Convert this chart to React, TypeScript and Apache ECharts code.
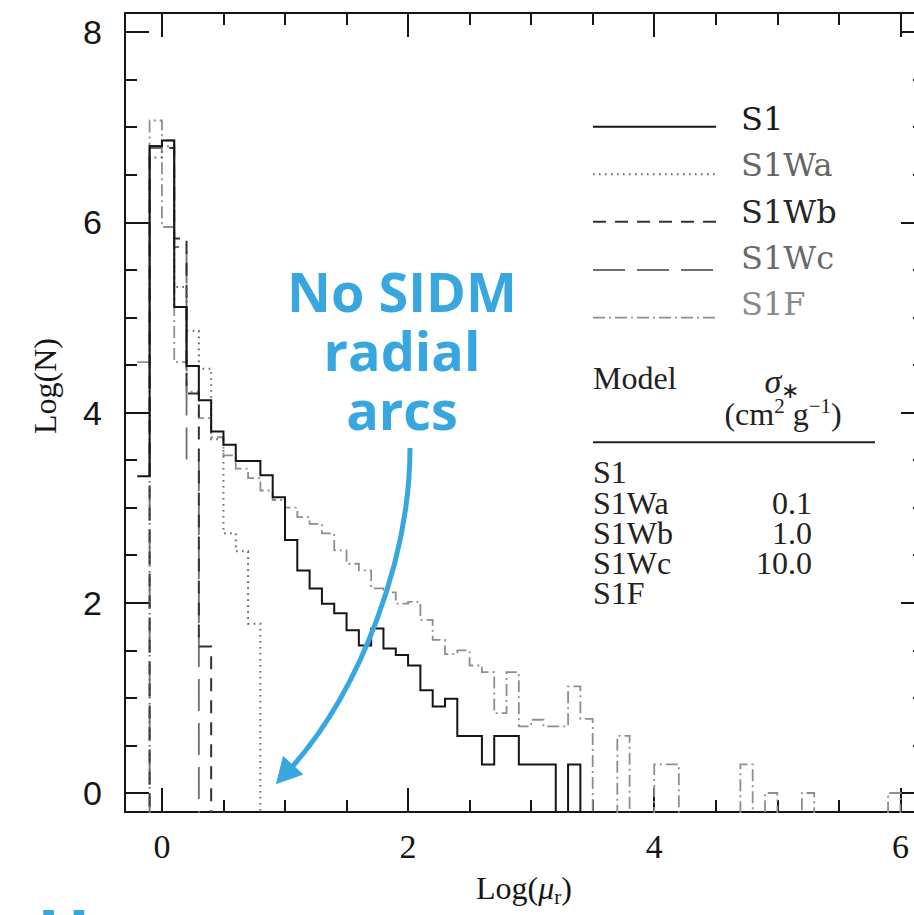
import React, { useEffect, useRef } from 'react';
import * as echarts from 'echarts';

// ---------- data (log10 counts per bin of width 0.1 in Log(mu_r); null = empty bin) ----------
const BIN_WIDTH = 0.1;

const S1_START = -0.2;
const S1 = [3.33, 6.80, 6.86, 5.11, 4.49, 4.13, 3.80, 3.66, 3.49, 3.49, 3.34, 3.11, 2.66, 2.34, 2.15, 1.99,
  1.89, 1.71, 1.55, 1.73, 1.52, 1.45, 1.34, 1.08, 0.91, 0.99, 0.60, 0.60, 0.30, 0.60, 0.60, 0.30, 0.30, 0.30,
  null, 0.30];

const S1WA_START = -0.1;
const S1WA = [6.68, 6.80, 5.32, 4.86, 4.46, 3.72, 2.73, 2.54, 1.78];

const S1WB_START = -0.1;
const S1WB = [6.80, 6.78, 5.83, 4.20, 1.54];

const S1WC_START = -0.1;
const S1WC = [6.78, 6.86, 5.74, 3.50];

const S1F_START = -0.2;
const S1F = [4.53, 7.07, 5.95, 4.53, 4.22, 3.94, 3.74, 3.55, 3.41, 3.31, 3.18, 3.08, 3.00, 2.90, 2.83, 2.73,
  2.55, 2.41, 2.34, 2.15, 2.11, 1.99, 2.01, 1.82, 1.61, 1.46, 1.50, 1.34, 1.27, 0.84, 1.27, 0.70, 0.77, 0.70,
  0.70, 1.12, 0.78, null, null, 0.60, null, null, 0.30, 0.30, null, null, null, null, null, 0.30, null, 0.00,
  null, null, 0.00, null, null, null, null, null, null, 0.00];

const X_MAJOR = [0, 2, 4, 6];
const X_MINOR = [0, 0.5, 1, 1.5, 2, 2.5, 3, 3.5, 4, 4.5, 5, 5.5, 6];
const Y_MAJOR = [0, 2, 4, 6, 8];
const Y_MINOR = [0, 0.5, 1, 1.5, 2, 2.5, 3, 3.5, 4, 4.5, 5, 5.5, 6, 6.5, 7, 7.5, 8];

const X_MIN = -0.3;
const X_MAX = 6.2;
const Y_MIN = -0.2;
const Y_MAX = 8.2;

const TABLE_MODELS = ['S1', 'S1Wa', 'S1Wb', 'S1Wc', 'S1F'];
const TABLE_SIGMA = ['', '0.1', '1.0', '10.0', ''];

const ANNOTATION = ['No SIDM', 'radial', 'arcs'];

// ---------- helpers ----------
const FLOOR = -5; // empty bins fall below the visible axis range

function stepPoints(start: number, vals: (number | null)[], riseFromFloor: boolean) {
  const pts: [number, number][] = [];
  if (riseFromFloor) pts.push([start, FLOOR]);
  vals.forEach((v, i) => {
    const y = v === null ? FLOOR : v;
    const x0 = +(start + i * BIN_WIDTH).toFixed(4);
    const x1 = +(start + (i + 1) * BIN_WIDTH).toFixed(4);
    pts.push([x0, y], [x1, y]);
  });
  const end = +(start + vals.length * BIN_WIDTH).toFixed(4);
  pts.push([end, FLOOR]);
  return pts;
}

const HIST = [
  { name: 'S1F', start: S1F_START, values: S1F, rise: false, color: '#8e8e8e', width: 1.8, dash: [12, 4, 2, 4] as any, legendText: '#8a8a8a' },
  { name: 'S1Wc', start: S1WC_START, values: S1WC, rise: true, color: '#6e6e6e', width: 1.8, dash: [32, 12] as any, legendText: '#6a6a6a' },
  { name: 'S1Wb', start: S1WB_START, values: S1WB, rise: true, color: '#333333', width: 2, dash: [13, 9] as any, legendText: '#262626' },
  { name: 'S1Wa', start: S1WA_START, values: S1WA, rise: true, color: '#666666', width: 2, dash: [1.6, 4.4] as any, legendText: '#666666' },
  { name: 'S1', start: S1_START, values: S1, rise: false, color: '#151515', width: 2, dash: 'solid' as any, legendText: '#1a1a1a' },
];

const AXIS_COLOR = '#151515';
const BLUE = '#39a7df';

function makeAxis(min: number, max: number, position: string, ticks: number[], len: number, showLine: boolean, label: any) {
  return {
    type: 'value',
    min,
    max,
    position,
    splitLine: { show: false },
    axisLine: { show: showLine, onZero: false, lineStyle: { color: AXIS_COLOR, width: 2 } },
    axisTick: { show: true, inside: true, length: len, customValues: ticks, lineStyle: { color: AXIS_COLOR, width: 2 } },
    axisLabel: label ? { show: true, customValues: ticks, ...label } : { show: false },
  };
}

function buildOption() {
  const series = HIST.map((h) => ({
    name: h.name,
    type: 'line',
    xAxisIndex: 0,
    yAxisIndex: 0,
    showSymbol: false,
    symbol: 'none',
    clip: true,
    lineStyle: { color: h.color, width: h.width, type: h.dash, cap: 'butt', join: 'miter' },
    data: stepPoints(h.start, h.values, h.rise),
  }));

  const legendOrder = ['S1', 'S1Wa', 'S1Wb', 'S1Wc', 'S1F'];
  const legendLineY = [126.7, 174.3, 221.7, 270, 317.7];
  const legendTextY = [118.5, 165, 211.7, 258.3, 303.5];
  const graphics: any[] = [];
  legendOrder.forEach((nm, i) => {
    const h = HIST.find((s) => s.name === nm)!;
    graphics.push({
      type: 'line',
      shape: { x1: 593, y1: legendLineY[i], x2: 716, y2: legendLineY[i] },
      style: { stroke: h.color, lineWidth: h.width, lineDash: Array.isArray(h.dash) ? h.dash : null },
    });
    graphics.push({
      type: 'text',
      x: 741,
      y: legendTextY[i],
      style: { text: nm, fill: h.legendText, fontSize: 32, fontFamily: 'DejaVu Serif', align: 'left', verticalAlign: 'middle' },
    });
  });

  // table
  const serif = 'Liberation Serif';
  graphics.push({
    type: 'text', x: 593, y: 378,
    style: { text: 'Model', fill: '#222', fontSize: 32, fontFamily: serif, align: 'left', verticalAlign: 'middle' },
  });
  graphics.push({
    type: 'text', x: 782, y: 381,
    style: {
      text: '{s|σ}{b|∗}', align: 'center', verticalAlign: 'middle',
      rich: {
        s: { fontSize: 34, fontFamily: serif, fontStyle: 'italic', fill: '#222', lineHeight: 40, verticalAlign: 'middle' },
        b: { fontSize: 22, fontFamily: serif, fill: '#222', lineHeight: 20, verticalAlign: 'bottom' },
      },
    },
  });
  graphics.push({
    type: 'text', x: 783, y: 414,
    style: {
      text: '{p|(cm}{u|2}{p| g}{u|−1}{p|)}', align: 'center', verticalAlign: 'middle',
      rich: {
        p: { fontSize: 32, fontFamily: serif, fill: '#222', lineHeight: 38, verticalAlign: 'middle' },
        u: { fontSize: 21, fontFamily: serif, fill: '#222', lineHeight: 22, verticalAlign: 'top' },
      },
    },
  });
  graphics.push({
    type: 'line', shape: { x1: 593, y1: 442.3, x2: 875, y2: 442.3 },
    style: { stroke: '#222', lineWidth: 2 },
  });
  const rowY = [471.7, 502.5, 532.8, 563, 593.2];
  TABLE_MODELS.forEach((m, i) => {
    graphics.push({
      type: 'text', x: 593, y: rowY[i],
      style: { text: m, fill: '#222', fontSize: 32, fontFamily: serif, align: 'left', verticalAlign: 'middle' },
    });
    if (TABLE_SIGMA[i]) {
      graphics.push({
        type: 'text', x: 812, y: rowY[i],
        style: { text: TABLE_SIGMA[i], fill: '#222', fontSize: 32, fontFamily: serif, align: 'right', verticalAlign: 'middle' },
      });
    }
  });

  // axis titles
  graphics.push({
    type: 'text', x: 524, y: 888,
    style: {
      text: '{a|Log(}{m|μ}{s|r}{a|)}', align: 'center', verticalAlign: 'middle',
      rich: {
        a: { fontSize: 32, fontFamily: serif, fill: '#151515', lineHeight: 38, verticalAlign: 'middle' },
        m: { fontSize: 32, fontFamily: serif, fontStyle: 'italic', fill: '#151515', lineHeight: 38, verticalAlign: 'middle' },
        s: { fontSize: 21, fontFamily: serif, fill: '#151515', lineHeight: 18, verticalAlign: 'bottom' },
      },
    },
  });
  graphics.push({
    type: 'text', x: 45, y: 386, rotation: Math.PI / 2,
    style: { text: 'Log(N)', fill: '#151515', fontSize: 32, fontFamily: serif, align: 'center', verticalAlign: 'middle' },
  });

  // annotation
  const annY = [291, 350, 409];
  ANNOTATION.forEach((t, i) => {
    graphics.push({
      type: 'text', x: 402, y: annY[i], z: 100,
      style: { text: t, fill: BLUE, fontSize: 54, fontFamily: 'Open Sans', fontWeight: 'bold', align: 'center', verticalAlign: 'middle' },
    });
  });
  graphics.push({
    type: 'bezierCurve', z: 100,
    shape: { x1: 410, y1: 448, cpx1: 410, cpy1: 560, cpx2: 360, cpy2: 690, x2: 292, y2: 767 },
    style: { stroke: BLUE, lineWidth: 5, fill: null },
  });
  graphics.push({
    type: 'polygon', z: 100,
    shape: { points: [[276.5, 783.5], [283.4, 756.7], [302.6, 774.3]] },
    style: { fill: BLUE, stroke: BLUE, lineWidth: 1 },
  });
  // partially visible blue heading at the bottom-left edge
  graphics.push({
    type: 'text', x: 37, y: 898, z: 100,
    style: { text: 'H', fill: BLUE, fontSize: 70, fontFamily: 'Open Sans', fontWeight: 'bold', align: 'left', verticalAlign: 'top' },
  });

  const labelX = { margin: 17, fontSize: 34, fontFamily: 'Liberation Serif', color: '#151515' };
  const labelY = { margin: 23, fontSize: 34, fontFamily: 'Liberation Sans', color: '#151515' };

  return {
    animation: false,
    backgroundColor: '#ffffff',
    grid: { left: 125, top: 13, width: 800, height: 799, containLabel: false, outerBoundsMode: 'none' },
    xAxis: [
      makeAxis(X_MIN, X_MAX, 'bottom', X_MAJOR, 24, true, labelX),
      makeAxis(X_MIN, X_MAX, 'bottom', X_MINOR, 12, false, null),
      makeAxis(X_MIN, X_MAX, 'top', X_MAJOR, 24, true, null),
      makeAxis(X_MIN, X_MAX, 'top', X_MINOR, 12, false, null),
    ],
    yAxis: [
      makeAxis(Y_MIN, Y_MAX, 'left', Y_MAJOR, 24, true, labelY),
      makeAxis(Y_MIN, Y_MAX, 'left', Y_MINOR, 12, false, null),
      makeAxis(Y_MIN, Y_MAX, 'right', Y_MAJOR, 24, true, null),
      makeAxis(Y_MIN, Y_MAX, 'right', Y_MINOR, 12, false, null),
    ],
    series,
    graphic: graphics,
  };
}

export default function App() {
  const ref = useRef<HTMLDivElement>(null);
  useEffect(() => {
    if (!ref.current) return;
    const chart = echarts.init(ref.current, null, { renderer: 'svg' });
    chart.setOption(buildOption() as any);
    return () => {
      chart.dispose();
    };
  }, []);
  return (
    <div
      ref={ref}
      style={{ position: 'fixed', left: 0, top: 0, width: 940, height: 915, background: '#ffffff' }}
    />
  );
}
